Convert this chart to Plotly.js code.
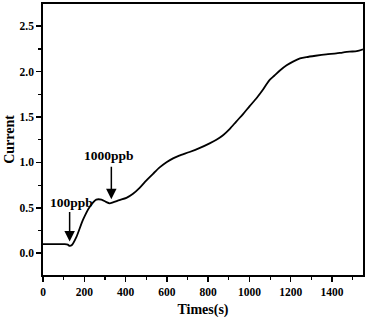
<!DOCTYPE html>
<html><head><meta charset="utf-8">
<script src="https://cdn.plot.ly/plotly-3.0.1.min.js"></script>
<style>html,body{margin:0;padding:0;background:#fff}#c{width:368px;height:319px}</style>
</head><body><div id="c"></div>
<script>
const timeS = [0, 40, 80, 105, 120, 129, 140, 162, 194, 226, 258, 283, 305, 323, 339, 370, 404, 436, 468, 500, 533, 565, 600, 630, 660, 710, 760, 807, 840, 872, 905, 936, 970, 1001, 1035, 1065, 1085, 1098, 1120, 1146, 1180, 1211, 1245, 1276, 1320, 1372, 1421, 1450, 1485, 1520, 1550];
const current = [0.10, 0.10, 0.10, 0.10, 0.095, 0.08, 0.09, 0.18, 0.37, 0.51, 0.59, 0.59, 0.565, 0.55, 0.56, 0.585, 0.61, 0.655, 0.72, 0.80, 0.875, 0.945, 1.005, 1.045, 1.075, 1.115, 1.16, 1.21, 1.25, 1.30, 1.37, 1.45, 1.535, 1.62, 1.71, 1.80, 1.87, 1.91, 1.955, 2.01, 2.07, 2.11, 2.145, 2.16, 2.175, 2.19, 2.20, 2.21, 2.22, 2.225, 2.245];
const markLabels = ["100ppb", "1000ppb"];
const markTime = [129, 331];
const markTip = [0.13, 0.595];
const markTail = [0.47, 0.97];
const labelTime = [137, 320];
const labelY = [0.56, 1.08];
const xTicks = [0, 200, 400, 600, 800, 1000, 1200, 1400];
const yTicks = [0.0, 0.5, 1.0, 1.5, 2.0, 2.5];

const font = "Liberation Serif, Times New Roman, serif";
const annotations = [];
markLabels.forEach((t, i) => {
  annotations.push({x: markTime[i], y: markTip[i], ax: markTime[i], ay: markTail[i], axref: 'x', ayref: 'y', xref: 'x', yref: 'y',
    text: '', showarrow: true, arrowhead: 2, arrowsize: 1.4, arrowwidth: 1.5, arrowcolor: '#000'});
  annotations.push({x: labelTime[i], y: labelY[i], xref: 'x', yref: 'y', text: '<b>' + t + '</b>', showarrow: false,
    font: {family: font, size: 13.5, color: '#000'}});
});

Plotly.newPlot('c', [{
  x: timeS, y: current, type: 'scatter', mode: 'lines',
  line: {color: '#000', width: 1.8, shape: 'spline', smoothing: 0.7}
}], {
  width: 368, height: 319,
  margin: {l: 43, r: 5, t: 4, b: 44},
  paper_bgcolor: '#fff', plot_bgcolor: '#fff',
  showlegend: false,
  font: {family: font, color: '#000'},
  xaxis: {
    range: [0, 1550], tickvals: xTicks, ticktext: xTicks.map(String),
    showgrid: false, zeroline: false, showline: true, mirror: true, linewidth: 1.8, linecolor: '#000',
    ticks: 'outside', ticklen: 5, tickwidth: 1.5, tickcolor: '#000',
    minor: {dtick: 100, tick0: 0, ticks: 'outside', ticklen: 3, tickwidth: 1.2, tickcolor: '#000', showgrid: false},
    tickfont: {family: font, size: 11.5, color: '#000', weight: 'bold'},
    title: {text: '<b>Times(s)</b>', font: {family: font, size: 14, color: '#000'}, standoff: 8}
  },
  yaxis: {
    range: [-0.24, 2.745], tickvals: yTicks, ticktext: yTicks.map(v => v.toFixed(1)),
    showgrid: false, zeroline: false, showline: true, mirror: true, linewidth: 1.8, linecolor: '#000',
    ticks: 'outside', ticklen: 5, tickwidth: 1.5, tickcolor: '#000',
    minor: {dtick: 0.25, tick0: 0, ticks: 'outside', ticklen: 3, tickwidth: 1.2, tickcolor: '#000', showgrid: false},
    tickfont: {family: font, size: 11.5, color: '#000', weight: 'bold'},
    title: {text: '<b>Current</b>', font: {family: font, size: 14, color: '#000'}, standoff: 2}
  },
  annotations: annotations
}, {displayModeBar: false, staticPlot: true});
</script></body></html>
